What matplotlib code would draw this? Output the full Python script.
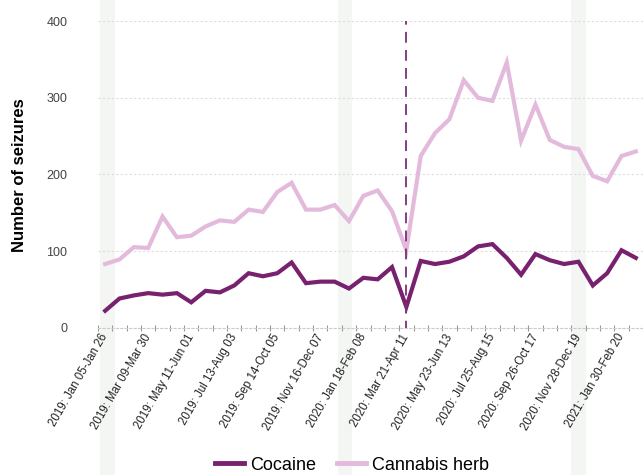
import matplotlib
matplotlib.use("Agg")
import matplotlib.pyplot as plt
import matplotlib.transforms as mtransforms
from matplotlib.patches import Rectangle
from matplotlib.lines import Line2D

plt.rcParams['font.family'] = ['Liberation Sans', 'DejaVu Sans']

cocaine = [22, 38, 42, 45, 43, 45, 33, 48, 46, 55, 71, 67, 71, 85, 58, 60, 60, 51, 65, 63, 79, 27,
           87, 83, 86, 93, 106, 109, 91, 69, 96, 88, 83, 86, 55, 71, 101, 91]
cannabis = [83, 89, 105, 104, 145, 118, 120, 132, 140, 138, 154, 151, 177, 189, 154, 154, 160, 139, 172, 179, 152, 101,
            224, 254, 272, 323, 300, 296, 346, 244, 291, 245, 236, 233, 198, 191, 224, 230]
tick_labels = ["2019: Jan 05-Jan 26", "2019: Mar 09-Mar 30", "2019: May 11-Jun 01", "2019: Jul 13-Aug 03",
               "2019: Sep 14-Oct 05", "2019: Nov 16-Dec 07", "2020: Jan 18-Feb 08", "2020: Mar 21-Apr 11",
               "2020: May 23-Jun 13", "2020: Jul 25-Aug 15", "2020: Sep 26-Oct 17", "2020: Nov 28-Dec 19",
               "2021: Jan 30-Feb 20"]
label_every = 3
lockdown_index = 21
y_ticks = [0, 100, 200, 300, 400]

c_coc = '#78216F'
c_can = '#E3BADB'

fig = plt.figure(figsize=(6.43, 4.75), dpi=100)
W, H = 643, 475
# faint background stripes
for x0, x1 in [(100, 115), (338, 352), (571, 586)]:
    fig.patches.append(Rectangle((x0 / W, 0), (x1 - x0) / W, 1, transform=fig.transFigure,
                                 facecolor='#F4F6F4', edgecolor='none', zorder=0))

ax = fig.add_axes([98 / W, 1 - 327.6 / H, (643 - 98) / W, (327.6 - 21.2) / H])
ax.set_zorder(2)
ax.set_facecolor('none')
n = len(cocaine)
xs = list(range(n))
ax.plot(xs, cannabis, color=c_can, lw=3.0, solid_joinstyle='miter', zorder=3)
ax.plot(xs, cocaine, color=c_coc, lw=3.0, solid_joinstyle='miter', zorder=4)
ax.axvline(lockdown_index, ymin=0, ymax=1.0, color='#7A2F78', lw=1.3, ls=(2, (6, 4)), zorder=5, clip_on=False)

ax.set_xlim(-0.5, n - 0.5)
ax.set_ylim(0, 400)
ax.set_yticks(y_ticks)
ax.set_yticklabels([str(v) for v in y_ticks], fontsize=9, color='#444444')
for v in y_ticks[1:]:
    ax.axhline(v, color='#DDDDDD', lw=0.8, ls=(0, (2, 2)), zorder=1)

ax.set_xticks(xs[::label_every])
ax.set_xticklabels(tick_labels, rotation=60, ha='right', rotation_mode='anchor', fontsize=8.3, color='#222222')
ax.tick_params(axis='x', length=0, pad=3)
offset = mtransforms.ScaledTranslation(-5 / 100, 0, fig.dpi_scale_trans)
for lbl in ax.get_xticklabels():
    lbl.set_transform(lbl.get_transform() + offset)
ax.set_xticks([i - 0.5 for i in range(n + 1)], minor=True)
ax.tick_params(axis='x', which='minor', length=4, color='#999999', width=0.8, direction='inout')
ax.tick_params(axis='y', length=0, pad=22)

for s in ['top', 'right', 'left']:
    ax.spines[s].set_visible(False)
ax.spines['bottom'].set_color('#CCCCCC')
ax.spines['bottom'].set_linestyle((0, (2, 2)))
ax.spines['bottom'].set_linewidth(0.8)

fig.text(20 / W, 1 - 175 / H, 'Number of seizures', rotation=90, fontsize=12, fontweight='bold',
         ha='center', va='center')

handles = [Line2D([], [], color=c_coc, lw=3.5), Line2D([], [], color=c_can, lw=3.5)]
fig.legend(handles, ['Cocaine', 'Cannabis herb'], loc='center', bbox_to_anchor=(352 / W, 1 - 465 / H),
           ncol=2, frameon=False, fontsize=13, handlelength=1.6, handletextpad=0.3, columnspacing=1.2)

fig.savefig('out.png', dpi=100)
